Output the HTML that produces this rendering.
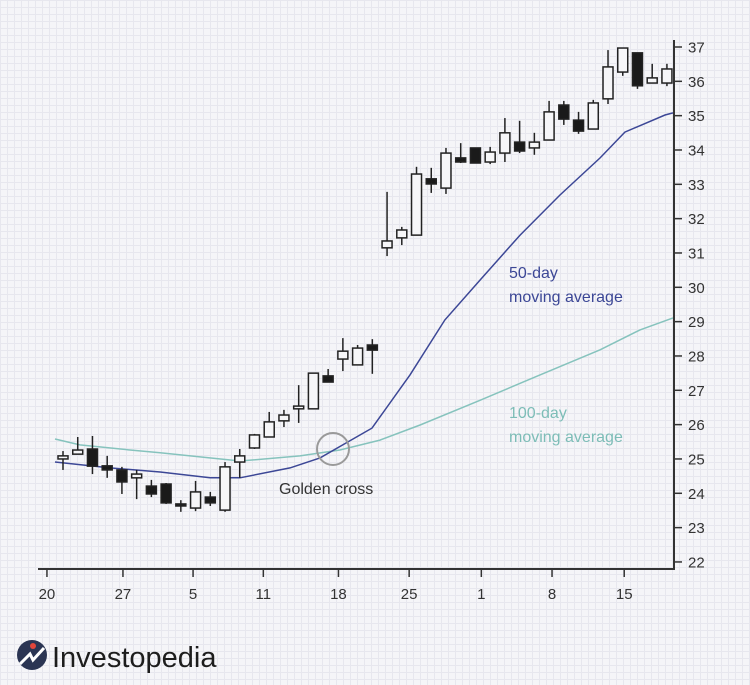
<!DOCTYPE html>
<html><head><meta charset="utf-8">
<style>
html,body{margin:0;padding:0;}
body{width:750px;height:685px;overflow:hidden;background:#f5f5f8;
background-image:linear-gradient(to right,#e7e7ee 1px,transparent 1px),linear-gradient(to bottom,#e7e7ee 1px,transparent 1px);
background-size:7px 7px;font-family:"Liberation Sans",sans-serif;}
svg{position:absolute;left:0;top:0;}
</style></head>
<body>
<svg id="chart" width="750" height="685" xmlns="http://www.w3.org/2000/svg"></svg>
<script>
// candle data: [high, low, open, close]
const highs=[25.23,25.64,25.67,25.09,24.77,24.68,24.39,24.30,23.80,24.36,24.04,24.91,25.29,25.73,26.37,26.43,27.15,27.50,27.62,28.52,28.32,28.49,32.78,31.76,33.51,33.48,34.06,34.20,34.06,34.09,34.93,34.85,34.50,35.43,35.43,35.11,35.46,36.91,36.97,36.83,36.51,36.51];
const lows=[24.68,25.14,24.56,24.45,23.98,23.83,23.89,23.69,23.46,23.48,23.63,23.46,24.45,25.29,25.64,25.93,26.05,26.46,27.24,27.56,27.74,27.48,30.91,31.23,31.52,32.75,32.72,33.62,33.62,33.59,33.65,33.91,33.86,34.29,34.73,34.47,34.61,35.34,36.16,35.78,35.95,35.86];
const opens=[25.00,25.14,25.29,24.80,24.68,24.45,24.21,24.27,23.69,23.57,23.89,23.51,24.91,25.32,25.64,26.11,26.46,26.46,27.42,27.91,27.74,28.32,31.15,31.44,31.52,33.16,32.89,33.77,34.06,33.65,33.91,34.23,34.06,34.29,35.31,34.87,34.61,35.49,36.27,36.83,35.95,35.95];
const closes=[25.09,25.26,24.79,24.68,24.33,24.56,23.98,23.72,23.63,24.04,23.72,24.77,25.09,25.70,26.08,26.28,26.54,27.50,27.24,28.14,28.23,28.17,31.35,31.67,33.30,33.01,33.91,33.65,33.62,33.94,34.50,33.97,34.23,35.11,34.90,34.55,35.37,36.42,36.97,35.87,36.10,36.36];
// moving averages (x in candle-index units)
const ma50X=[-0.54,3.19,6.59,9.98,12.02,15.41,17.45,20.98,23.56,25.93,28.31,31.03,33.74,36.46,38.15,40.87,41.41];
const ma50Y=[24.91,24.74,24.62,24.45,24.45,24.74,25.03,25.90,27.45,29.05,30.21,31.52,32.69,33.77,34.52,35.02,35.08];
const ma100X=[-0.54,1.15,4.55,6.59,9.30,12.02,16.09,18.80,21.52,24.24,28.31,32.38,36.46,39.17,41.41];
const ma100Y=[25.58,25.41,25.26,25.18,25.06,24.94,25.09,25.26,25.55,25.99,26.71,27.45,28.18,28.76,29.11];
const xTickLabels=["20","27","5","11","18","25","1","8","15"];
const xTickPos=[-1.09,4.07,8.83,13.6,18.7,23.5,28.4,33.2,38.1];
const yTicks=[22,23,24,25,26,27,28,29,30,31,32,33,34,35,36,37];

const NS="http://www.w3.org/2000/svg";
const svg=document.getElementById('chart');
const X=i=>63+i*14.73;
const Y=v=>47+(37-v)*34.33;
function mk(t,a,parent){const e=document.createElementNS(NS,t);for(const k in a)e.setAttribute(k,a[k]);(parent||svg).appendChild(e);return e;}

function line(xs,ys,color,name){
  let d='';xs.forEach((x,i)=>{d+=(i?'L':'M')+X(x).toFixed(1)+' '+Y(ys[i]).toFixed(1);});
  const p=mk('path',{d:d,fill:'none',stroke:color,'stroke-width':1.5});
  
  
}
line(ma100X,ma100Y,'#86c3bd','ma-100-line');
line(ma50X,ma50Y,'#3c4796','ma-50-line');

const cg=mk('g',{});


for(let i=0;i<highs.length;i++){
  const g=mk('g',{},cg);
  
  
  const x=X(i);
  mk('line',{x1:x,x2:x,y1:Y(highs[i]),y2:Y(lows[i]),stroke:'#222','stroke-width':1.5},g);
  const top=Math.max(opens[i],closes[i]),bot=Math.min(opens[i],closes[i]);
  const filled=closes[i]<opens[i];
  const h=Math.max(Y(bot)-Y(top),2);
  mk('rect',{x:x-5,y:Y(top),width:10,height:h,fill:filled?'#1a1a1a':'#f6f6f8',stroke:'#222','stroke-width':1.5},g);
}

const ax=mk('g',{});


mk('path',{d:'M38 569 H674 V40',fill:'none',stroke:'#333','stroke-width':2},ax);
xTickPos.forEach((p,i)=>{
  const x=X(p);
  mk('line',{x1:x,x2:x,y1:569,y2:577,stroke:'#333','stroke-width':1.5},ax);
  const t=mk('text',{x:x,y:599,'text-anchor':'middle','font-size':15,fill:'#333','font-family':'Liberation Sans, sans-serif'},ax);
  t.textContent=xTickLabels[i];
  
  
});
yTicks.forEach(v=>{
  const y=Y(v);
  mk('line',{x1:674,x2:682,y1:y,y2:y,stroke:'#333','stroke-width':1.5},ax);
  const t=mk('text',{x:688,y:y+5.5,'font-size':15,fill:'#333','font-family':'Liberation Sans, sans-serif'},ax);
  t.textContent=v;
  
  
});
</script>
<svg width="750" height="685" xmlns="http://www.w3.org/2000/svg" style="pointer-events:none">
  <circle cx="333" cy="449" r="16" fill="none" stroke="#9a9a9a" stroke-width="2"/>
  <text x="279" y="494" font-size="16" fill="#333" font-family="Liberation Sans, sans-serif">Golden cross</text>
  <text x="509" y="278" font-size="16" fill="#3c4796" font-family="Liberation Sans, sans-serif">50-day</text>
  <text x="509" y="302" font-size="16" fill="#3c4796" font-family="Liberation Sans, sans-serif">moving average</text>
  <text x="509" y="418" font-size="16" fill="#7dbdb7" font-family="Liberation Sans, sans-serif">100-day</text>
  <text x="509" y="442" font-size="16" fill="#7dbdb7" font-family="Liberation Sans, sans-serif">moving average</text>
  <g>
    <circle cx="32" cy="655" r="15" fill="#2b3553"/>
    <circle cx="33" cy="646" r="3" fill="#e2463b"/>
    <path d="M20 664 L30 654 L33 660 L44 648" fill="none" stroke="#fff" stroke-width="3"/>
    <text x="52" y="667" font-size="29" fill="#1d1d1d" font-family="Liberation Sans, sans-serif">Investopedia</text>
  </g>
</svg>
</body></html>
